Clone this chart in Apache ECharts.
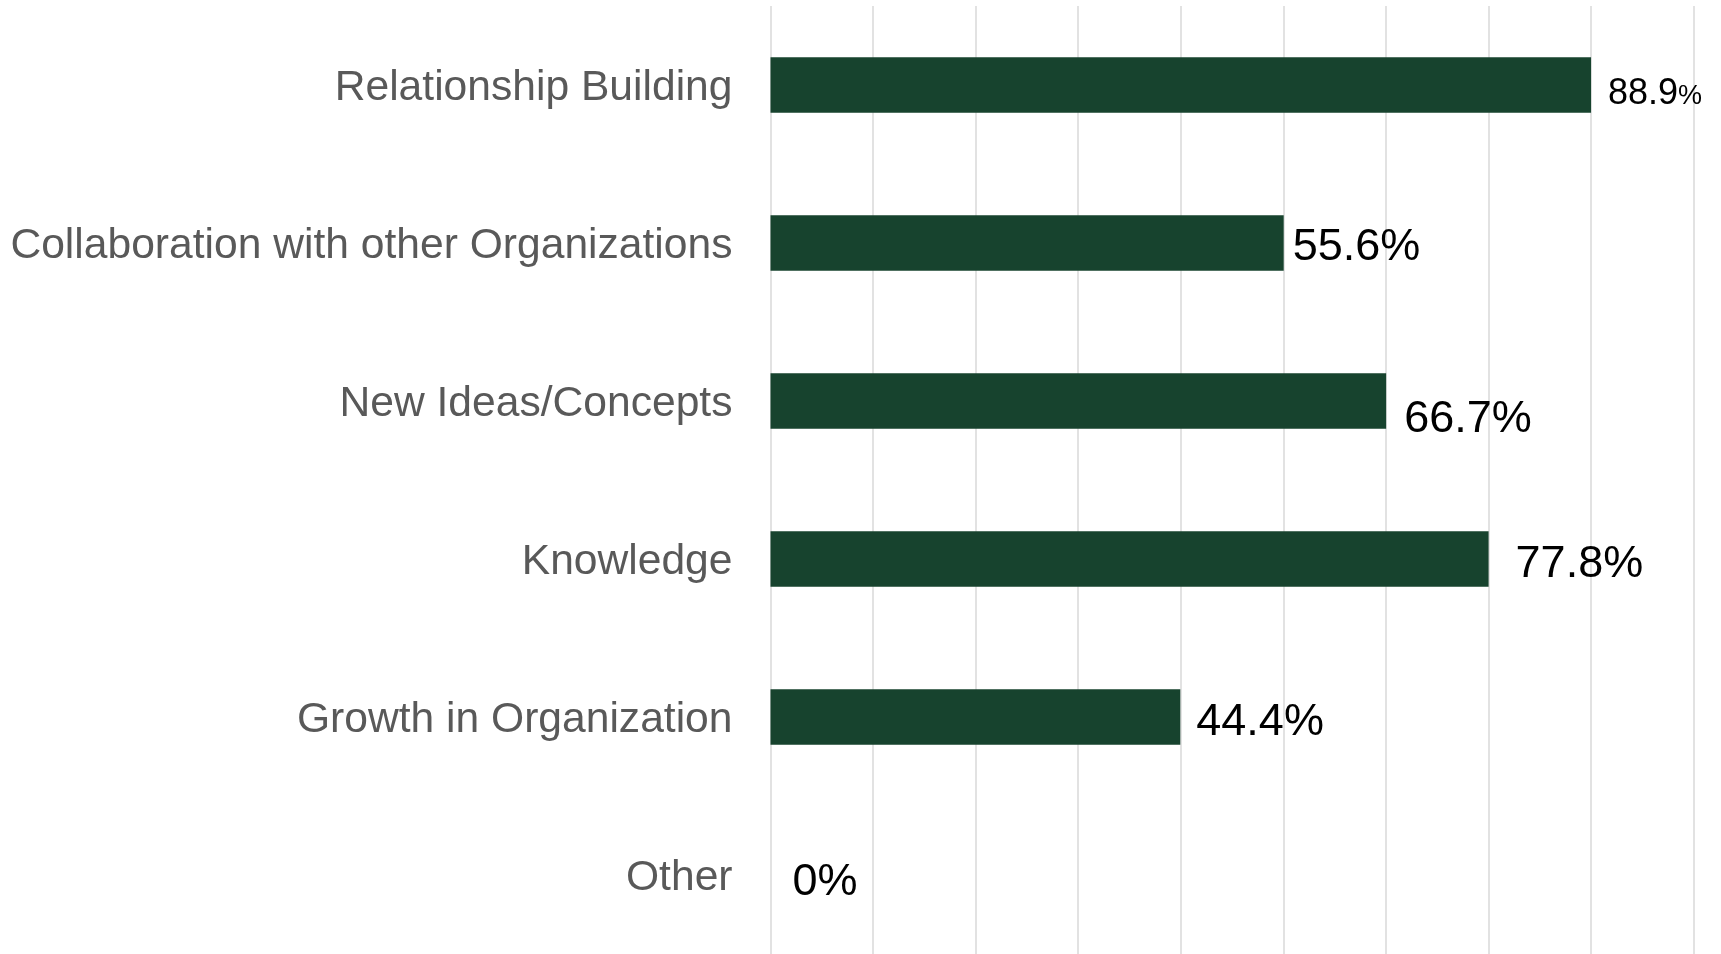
<!DOCTYPE html>
<html>
<head>
<meta charset="utf-8">
<script src="https://cdn.jsdelivr.net/npm/echarts@6/dist/echarts.min.js"></script>
<style>
  html, body { margin: 0; padding: 0; background: #fff; }
  #chart { width: 1721px; height: 954px; }
</style>
</head>
<body>
<div id="chart"></div>
<script>
const categories = [
  'Relationship Building',
  'Collaboration with other Organizations',
  'New Ideas/Concepts',
  'Knowledge',
  'Growth in Organization',
  'Other',
]
const percents = [88.9, 55.6, 66.7, 77.8, 44.4, 0]

// label placement tweaks, one per bar (distance from bar end, vertical nudge)
const labelDistance = [17, 9, 18, 27, 16, 22]
const labelNudgeY = [9, 5, 19, 6, 6, 8]

const chart = echarts.init(document.getElementById('chart'))

const barData = percents.map((v, i) => {
  const label = {
    distance: labelDistance[i],
    offset: [0, labelNudgeY[i]],
  }
  if (i === 0) {
    // the top label is drawn smaller, with an even smaller percent sign
    label.formatter = (p) => `{num|${p.value}}{pct|%}`
    label.rich = {
      num: { fontSize: 36, color: '#000', fontFamily: 'Liberation Sans, Arial, sans-serif' },
      pct: { fontSize: 27, color: '#000', fontFamily: 'Liberation Sans, Arial, sans-serif', padding: [6, 0, 0, 0] },
    }
  }
  return { value: v, label }
})

const labelFont = 'Liberation Sans, Arial, sans-serif'

chart.setOption({
  animation: false,
  grid: { left: 770.5, right: 27.5, top: 6, height: 956, containLabel: false },
  xAxis: {
    type: 'value',
    min: 0,
    max: 100,
    interval: 100 / 9,
    axisLabel: { show: false },
    axisLine: { show: false },
    axisTick: { show: false },
    splitLine: { show: true, lineStyle: { color: '#d9d9d9', width: 1.5 } },
  },
  yAxis: {
    type: 'category',
    data: categories,
    inverse: true,
    axisLine: { show: false },
    axisTick: { show: false },
    axisLabel: {
      margin: 38,
      formatter: (v) => `{c|${v}}`,
      rich: {
        c: {
          fontSize: 42.6,
          color: '#595959',
          fontFamily: labelFont,
          padding: [7, 0, 0, 0],
        },
      },
    },
  },
  series: [
    {
      type: 'bar',
      data: barData,
      barWidth: '35%',
      itemStyle: { color: '#17432e' },
      label: {
        show: true,
        position: 'right',
        fontSize: 45,
        color: '#000',
        fontFamily: labelFont,
        formatter: (p) => `${p.value}%`,
      },
    },
  ],
})
</script>
</body>
</html>
